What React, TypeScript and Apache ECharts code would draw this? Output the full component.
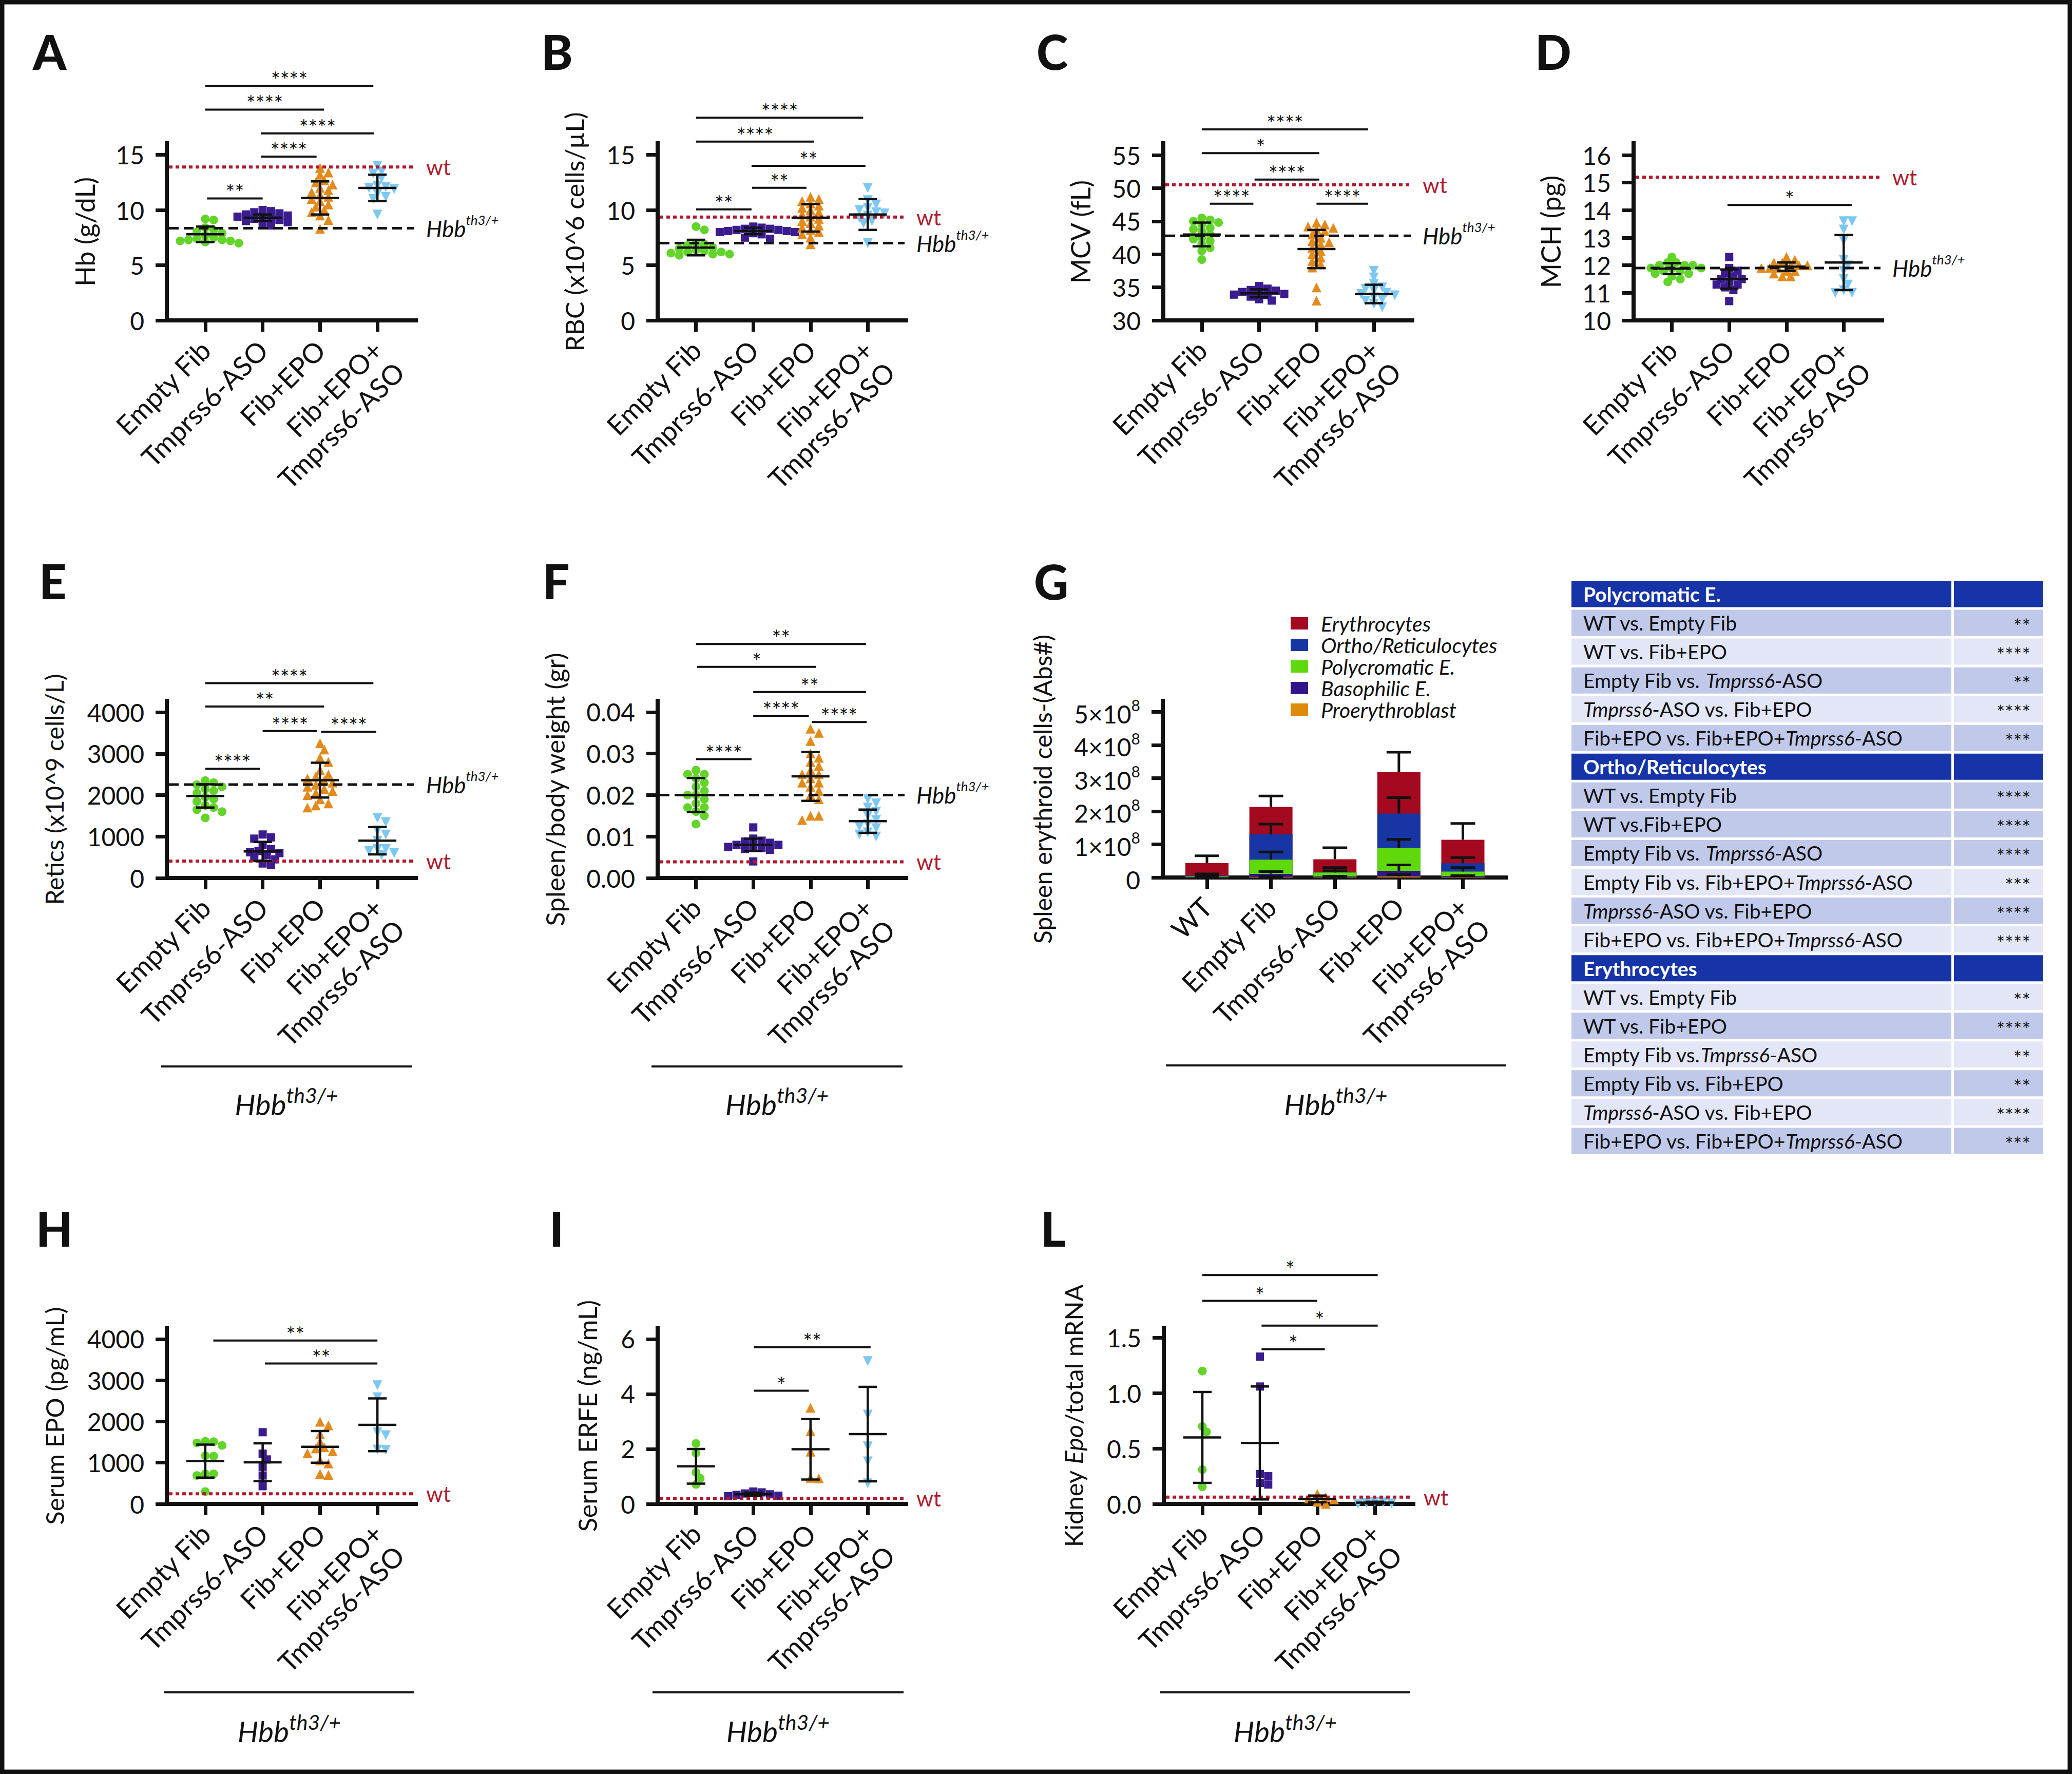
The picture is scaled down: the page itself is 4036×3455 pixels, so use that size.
import React, { useEffect, useRef } from 'react';
import * as echarts from 'echarts';

const FONT = 'Lato, "Noto Sans", "DejaVu Sans", sans-serif';
const INK = '#111111';
const RED = '#b01a2e';

// ---------- categories ----------
const CATS = ['Empty Fib', 'Tmprss6-ASO', 'Fib+EPO', 'Fib+EPO+\nTmprss6-ASO'];
const G_CATS = ['WT', 'Empty Fib', 'Tmprss6-ASO', 'Fib+EPO', 'Fib+EPO+\nTmprss6-ASO'];

// ---------- A: Hb (g/dL) ----------
const A_EMPTY = [9.2, 9.1, 8.4, 8.2, 8.0, 7.9, 7.7, 7.5, 7.4, 7.3, 7.2, 7.2, 7.1, 7.0, 7.3];
const A_TMP = [10.0, 9.9, 9.8, 9.7, 9.6, 9.5, 9.4, 9.3, 9.2, 9.1, 9.0, 8.9, 8.7, 8.6, 9.4];
const A_EPO = [13.8, 13.4, 13.2, 12.7, 12.5, 12.3, 12.0, 11.6, 11.4, 11.2, 11.0, 10.8, 10.5, 10.3, 10.0, 9.8, 9.5, 9.1, 8.3, 11.8];
const A_EPOT = [14.0, 13.5, 13.3, 12.9, 12.2, 12.1, 12.0, 11.9, 11.5, 11.2, 11.0, 9.6];
const A_MEAN = [7.8, 9.3, 11.1, 12.0];
const A_SD = [0.7, 0.3, 1.5, 1.2];
const A_WT = 13.9;
const A_HBB = 8.35;
const A_TICKS = [0, 5, 10, 15];
const A_BRACKETS: any[] = [[0.03, 1.0, 11.05, '**'], [0.97, 1.94, 14.84, '****'], [0.97, 2.94, 16.95, '****'], [0, 2.07, 19.1, '****'], [0, 2.93, 21.25, '****']];

// ---------- B: RBC ----------
const B_EMPTY = [8.5, 8.2, 7.0, 6.9, 6.8, 6.6, 6.4, 6.3, 6.2, 6.1, 6.0, 6.0, 5.9, 6.5, 6.2];
const B_TMP = [8.5, 8.4, 8.3, 8.3, 8.2, 8.2, 8.1, 8.1, 8.0, 8.0, 7.9, 7.8, 7.5, 7.4];
const B_EPO = [11.2, 11.0, 10.8, 10.6, 10.4, 10.2, 10.0, 9.8, 9.6, 9.4, 9.2, 9.0, 8.8, 8.6, 8.4, 8.2, 8.0, 7.8, 7.5, 6.9];
const B_EPOT = [12.0, 10.9, 10.5, 10.2, 10.0, 9.8, 9.7, 9.5, 9.3, 9.0, 8.8, 7.0];
const B_MEAN = [6.6, 8.1, 9.3, 9.6];
const B_SD = [0.7, 0.3, 1.25, 1.4];
const B_WT = 9.36;
const B_HBB = 7.0;
const B_TICKS = [0, 5, 10, 15];
const B_BRACKETS: any[] = [[0, 0.97, 10.06, '**'], [0.98, 1.93, 12.02, '**'], [0.97, 2.96, 14.0, '**'], [0, 2.06, 16.2, '****'], [0, 2.92, 18.37, '****']];

// ---------- C: MCV ----------
const C_EMPTY = [45.5, 45.2, 45.0, 44.8, 44.5, 44.0, 43.8, 43.5, 43.0, 42.5, 42.3, 42.0, 41.5, 41.0, 40.5, 39.2];
const C_TMP = [35.2, 34.8, 34.6, 34.5, 34.3, 34.2, 34.0, 33.9, 33.8, 33.6, 33.2, 33.0];
const C_EPO = [44.8, 44.5, 44.2, 44.0, 43.8, 43.5, 43.0, 42.5, 42.0, 41.8, 41.5, 41.0, 40.5, 40.0, 39.5, 39.0, 38.5, 38.0, 35.0, 33.0];
const C_EPOT = [37.5, 36.5, 35.5, 35.0, 34.8, 34.5, 34.2, 34.0, 33.8, 33.5, 33.2, 33.0, 32.5, 32.0];
const C_MEAN = [43.0, 34.1, 40.8, 34.0];
const C_SD = [1.8, 0.6, 2.9, 1.4];
const C_WT = 50.5;
const C_HBB = 42.8;
const C_TICKS = [30, 35, 40, 45, 50, 55];
const C_BRACKETS: any[] = [[0.14, 0.9, 47.65, '****'], [0.92, 2.05, 51.3, '****'], [2.0, 2.9, 47.65, '****'], [0, 2.05, 55.3, '*'], [0, 2.9, 58.9, '****']];

// ---------- D: MCH ----------
const D_EMPTY = [12.3, 12.1, 12.1, 12.0, 12.0, 12.0, 11.9, 11.9, 11.9, 11.8, 11.8, 11.7, 11.7, 11.6, 11.5, 11.4];
const D_TMP = [12.3, 11.9, 11.8, 11.7, 11.6, 11.5, 11.5, 11.4, 11.3, 11.3, 11.2, 11.1, 10.7];
const D_EPO = [12.3, 12.2, 12.1, 12.1, 12.0, 12.0, 12.0, 11.9, 11.9, 11.9, 11.8, 11.8, 11.7, 11.6, 11.6];
const D_EPOT = [13.6, 13.6, 13.3, 12.9, 12.2, 12.0, 11.8, 11.5, 11.3, 11.1, 11.0, 11.0];
const D_MEAN = [11.88, 11.5, 11.95, 12.1];
const D_SD = [0.2, 0.35, 0.15, 1.0];
const D_WT = 15.2;
const D_HBB = 11.9;
const D_TICKS = [10, 11, 12, 13, 14, 15, 16];
const D_BRACKETS: any[] = [[0.97, 3.14, 14.19, '*']];

// ---------- E: Retics ----------
const E_EMPTY = [2350, 2300, 2250, 2200, 2150, 2100, 2050, 1950, 1900, 1850, 1750, 1700, 1650, 1600, 1450];
const E_TMP = [1050, 980, 950, 800, 700, 650, 620, 600, 550, 500, 450, 350, 320];
const E_EPO = [3250, 3100, 2900, 2800, 2600, 2500, 2450, 2400, 2350, 2300, 2250, 2200, 2150, 2100, 2050, 2000, 1900, 1800, 1750, 1700];
const E_EPOT = [1450, 1350, 1150, 1050, 900, 700, 650, 600, 550, 700];
const E_MEAN = [1980, 640, 2360, 900];
const E_SD = [280, 230, 420, 330];
const E_WT = 409;
const E_HBB = 2254;
const E_TICKS = [0, 1000, 2000, 3000, 4000];
const E_BRACKETS: any[] = [[0, 0.95, 2636, '****'], [1.0, 1.95, 3546, '****'], [2.02, 2.98, 3527, '****'], [0, 2.07, 4136, '**'], [0, 2.93, 4699, '****']];

// ---------- F: Spleen/body weight ----------
const F_EMPTY = [0.026, 0.025, 0.025, 0.024, 0.023, 0.022, 0.021, 0.02, 0.02, 0.019, 0.018, 0.017, 0.017, 0.016, 0.015, 0.013];
const F_TMP = [0.0122, 0.0095, 0.009, 0.0088, 0.0085, 0.008, 0.008, 0.0078, 0.0075, 0.0072, 0.007, 0.0068, 0.004];
const F_EPO = [0.036, 0.035, 0.033, 0.03, 0.029, 0.028, 0.027, 0.026, 0.025, 0.025, 0.024, 0.023, 0.023, 0.022, 0.021, 0.02, 0.019, 0.015, 0.015, 0.014];
const F_EPOT = [0.019, 0.018, 0.017, 0.016, 0.015, 0.014, 0.013, 0.0125, 0.012, 0.011, 0.0105, 0.01];
const F_MEAN = [0.02, 0.008, 0.0245, 0.0137];
const F_SD = [0.0041, 0.0015, 0.0059, 0.0028];
const F_WT = 0.0039;
const F_HBB = 0.02;
const F_TICKS = [0, 0.01, 0.02, 0.03, 0.04];
const F_BRACKETS: any[] = [[0, 0.97, 0.02864, '****'], [1.0, 1.97, 0.0391, '****'], [2.02, 2.98, 0.0376, '****'], [1.0, 2.97, 0.04482, '**'], [0.02, 2.1, 0.0509, '*'], [0, 2.97, 0.0564, '**']];

// ---------- G: spleen erythroid cells (x1e8) ----------
const G_PRO = [0.002, 0.02, 0.01, 0.03, 0.01];
const G_BASO = [0.008, 0.09, 0.02, 0.17, 0.03];
const G_POLY = [0.02, 0.43, 0.12, 0.69, 0.14];
const G_ORTHO = [0.03, 0.76, 0.02, 1.04, 0.25];
const G_ERY = [0.375, 0.83, 0.38, 1.25, 0.71];
const G_PRO_SD = [0, 0.01, 0, 0.06, 0];
const G_BASO_SD = [0.005, 0.07, 0.01, 0.18, 0.02];
const G_POLY_SD = [0.01, 0.23, 0.05, 0.26, 0.12];
const G_ORTHO_SD = [0.05, 0.31, 0.13, 0.48, 0.17];
const G_ERY_SD = [0.22, 0.33, 0.35, 0.6, 0.49];
const G_TICKS = [0, 1e8, 2e8, 3e8, 4e8, 5e8];
const G_NAMES = ['Proerythroblast', 'Basophilic E.', 'Polycromatic E.', 'Ortho/Reticulocytes', 'Erythrocytes'];
const G_COLORS = ['#e08a0c', '#30148c', '#5fd80c', '#1736a4', '#a30a1f'];

// ---------- H: Serum EPO ----------
const H_EMPTY = [1510, 1520, 1480, 1420, 1160, 1170, 730, 730, 690, 300];
const H_TMP = [1740, 1220, 1080, 900, 690, 430];
const H_EPO = [1995, 1905, 1695, 1510, 1375, 1345, 1280, 1235, 1055, 980, 730, 705];
const H_EPOT = [2880, 2590, 1740, 1670, 1310, 1320];
const H_MEAN = [1040, 1010, 1385, 1920];
const H_SD = [400, 460, 385, 640];
const H_WT = 247;
const H_TICKS = [0, 1000, 2000, 3000, 4000];
const H_BRACKETS: any[] = [[0.14, 3.0, 3966, '**'], [1.04, 3.0, 3407, '**']];

// ---------- I: Serum ERFE ----------
const I_EMPTY = [2.2, 1.85, 1.15, 0.93, 0.71];
const I_TMP = [0.45, 0.42, 0.38, 0.35, 0.33, 0.3, 0.28];
const I_EPO = [3.5, 2.65, 1.9, 0.95, 0.93];
const I_EPOT = [5.2, 3.25, 2.1, 1.55, 0.75];
const I_MEAN = [1.37, 0.35, 1.99, 2.54];
const I_SD = [0.63, 0.06, 1.1, 1.72];
const I_WT = 0.207;
const I_TICKS = [0, 2, 4, 6];
const I_BRACKETS: any[] = [[1.01, 1.97, 4.12, '*'], [1.01, 3.05, 5.7, '**']];

// ---------- L: Kidney Epo ----------
const L_EMPTY = [1.2, 0.7, 0.65, 0.31, 0.155];
const L_TMP = [1.33, 1.06, 0.27, 0.25, 0.19, 0.175];
const L_EPO = [0.09, 0.06, 0.05, 0.04, 0.02, 0.0];
const L_EPOT = [0.02, 0.015, 0.01, 0.005, 0.0];
const L_MEAN = [0.6, 0.55, 0.045, 0.012];
const L_SD = [0.41, 0.51, 0.03, 0.008];
const L_WT = 0.062;
const L_TICKS = [0, 0.5, 1.0, 1.5];
const L_BRACKETS: any[] = [[1.03, 2.13, 1.397, '*'], [1.03, 3.05, 1.61, '*'], [0, 2.0, 1.833, '*'], [0, 3.05, 2.066, '*']];

// ---------- table ----------
const POLY_ROWS = [
  ['WT vs. Empty Fib', '**'],
  ['WT vs. Fib+EPO', '****'],
  ['Empty Fib vs. {i|Tmprss6}-ASO', '**'],
  ['{i|Tmprss6}-ASO vs. Fib+EPO', '****'],
  ['Fib+EPO vs. Fib+EPO+{i|Tmprss6}-ASO', '***'],
];
const ORTHO_ROWS = [
  ['WT vs. Empty Fib', '****'],
  ['WT vs.Fib+EPO', '****'],
  ['Empty Fib vs. {i|Tmprss6}-ASO', '****'],
  ['Empty Fib vs. Fib+EPO+{i|Tmprss6}-ASO', '***'],
  ['{i|Tmprss6}-ASO vs. Fib+EPO', '****'],
  ['Fib+EPO vs. Fib+EPO+{i|Tmprss6}-ASO', '****'],
];
const ERY_ROWS = [
  ['WT vs. Empty Fib', '**'],
  ['WT vs. Fib+EPO', '****'],
  ['Empty Fib vs.{i|Tmprss6}-ASO', '**'],
  ['Empty Fib vs. Fib+EPO', '**'],
  ['{i|Tmprss6}-ASO vs. Fib+EPO', '****'],
  ['Fib+EPO vs. Fib+EPO+{i|Tmprss6}-ASO', '***'],
];

// ---------- styling / layout ----------
const GROUP_COLORS = ['#62d42a', '#3b1c8f', '#e38a1c', '#7cc8f2'];
const GROUP_SYMBOLS = ['circle', 'rect', 'triangle', 'triangle'];
const GROUP_ROT = [0, 0, 0, 180];
const GROUP_SIZE = [17, 16, 19, 19];

const LAYOUT: Record<string, any> = {
  A: { left: 325, right: 810, top: 279, bottom: 624, nameGap: 134, nameSize: 52, letter: [64, 100] },
  B: { left: 1281, right: 1765, top: 279, bottom: 624, nameGap: 137, nameSize: 50, letter: [1054, 100] },
  C: { left: 2266, right: 2751, top: 279, bottom: 624, nameGap: 136, nameSize: 52, letter: [2019, 100] },
  D: { left: 3182, right: 3666, top: 279, bottom: 624, nameGap: 136, nameSize: 52, letter: [2990, 100] },
  E: { left: 325, right: 810, top: 1365, bottom: 1710, nameGap: 196, nameSize: 48, letter: [76, 1131], group: [314, 802, 2077, 2145] },
  F: { left: 1281, right: 1765, top: 1365, bottom: 1710, nameGap: 175, nameSize: 51, letter: [1057, 1131], group: [1269, 1758, 2077, 2145] },
  G: { left: 2265, right: 2933, top: 1365, bottom: 1709, nameGap: 211, nameSize: 48, letter: [2014, 1132], group: [2271, 2933, 2075, 2145] },
  H: { left: 325, right: 810, top: 2586, bottom: 2929, nameGap: 195, nameSize: 49, letter: [70, 2392], group: [320, 807, 3296, 3366] },
  I: { left: 1281, right: 1765, top: 2586, bottom: 2929, nameGap: 112, nameSize: 50, letter: [1070, 2392], group: [1271, 1760, 3296, 3366] },
  L: { left: 2267, right: 2753, top: 2586, bottom: 2929, nameGap: 152, nameSize: 49, letter: [2027, 2392], group: [2260, 2747, 3296, 3366] },
};

const TABLE = { x1: 3061, x2: 3801, x3: 3806, x4: 3980, y0: 1157, pitch: 56.05, h: 51, textX: 3084, starX: 3955 };
const SHADE: Record<string, number[]> = { poly: [1, 0, 1, 0, 1], ortho: [1, 1, 1, 0, 1, 0], ery: [0, 1, 0, 1, 0, 1] };

const PANELS: any[] = [
  { key: 'A', groups: [A_EMPTY, A_TMP, A_EPO, A_EPOT], mean: A_MEAN, sd: A_SD, br: A_BRACKETS, refs: [['wt', A_WT], ['hbb', A_HBB]], ticks: A_TICKS, ymin: 0, ymax: 16.05, name: 'Hb (g/dL)', dec: 0 },
  { key: 'B', groups: [B_EMPTY, B_TMP, B_EPO, B_EPOT], mean: B_MEAN, sd: B_SD, br: B_BRACKETS, refs: [['wt', B_WT], ['hbb', B_HBB]], ticks: B_TICKS, ymin: 0, ymax: 16.05, name: 'RBC (x10^6 cells/µL)', dec: 0 },
  { key: 'C', groups: [C_EMPTY, C_TMP, C_EPO, C_EPOT], mean: C_MEAN, sd: C_SD, br: C_BRACKETS, refs: [['wt', C_WT], ['hbb', C_HBB]], ticks: C_TICKS, ymin: 30, ymax: 56.8, name: 'MCV (fL)', dec: 0 },
  { key: 'D', groups: [D_EMPTY, D_TMP, D_EPO, D_EPOT], mean: D_MEAN, sd: D_SD, br: D_BRACKETS, refs: [['wt', D_WT], ['hbb', D_HBB]], ticks: D_TICKS, ymin: 10, ymax: 16.43, name: 'MCH (pg)', dec: 0 },
  { key: 'E', groups: [E_EMPTY, E_TMP, E_EPO, E_EPOT], mean: E_MEAN, sd: E_SD, br: E_BRACKETS, refs: [['wt', E_WT], ['hbb', E_HBB]], ticks: E_TICKS, ymin: 0, ymax: 4273, name: 'Retics (x10^9 cells/L)', dec: 0 },
  { key: 'F', groups: [F_EMPTY, F_TMP, F_EPO, F_EPOT], mean: F_MEAN, sd: F_SD, br: F_BRACKETS, refs: [['wt', F_WT], ['hbb', F_HBB]], ticks: F_TICKS, ymin: 0, ymax: 0.0427, name: 'Spleen/body weight (gr)', dec: 2 },
  { key: 'H', groups: [H_EMPTY, H_TMP, H_EPO, H_EPOT], mean: H_MEAN, sd: H_SD, br: H_BRACKETS, refs: [['wt', H_WT]], ticks: H_TICKS, ymin: 0, ymax: 4274, name: 'Serum EPO (pg/mL)', dec: 0 },
  { key: 'I', groups: [I_EMPTY, I_TMP, I_EPO, I_EPOT], mean: I_MEAN, sd: I_SD, br: I_BRACKETS, refs: [['wt', I_WT]], ticks: I_TICKS, ymin: 0, ymax: 6.41, name: 'Serum ERFE (ng/mL)', dec: 0 },
  { key: 'L', groups: [L_EMPTY, L_TMP, L_EPO, L_EPOT], mean: L_MEAN, sd: L_SD, br: L_BRACKETS, refs: [['wt', L_WT]], ticks: L_TICKS, ymin: 0, ymax: 1.59, name: '{n|Kidney }{i|Epo}{n|/total mRNA}', dec: 1 },
];

const XMIN = -0.67;
const XMAX = 3.67;

function swarm(values: number[], cat: number, pyu: number, pxu: number, size: number) {
  const placed: number[][] = [];
  const idx = values.map((_, i) => i).sort((a, b) => values[b] - values[a]);
  const out: number[][] = new Array(values.length);
  const step = size * 0.48;
  const minD2 = (size * 0.73) ** 2;
  idx.forEach((i) => {
    const ypx = values[i] * pyu;
    let off = 0;
    for (let k = 0; k < 80; k++) {
      const cand = k === 0 ? 0 : (k % 2 ? 1 : -1) * Math.ceil(k / 2) * step;
      if (placed.every(([px, py]) => (px - cand) ** 2 + (py - ypx) ** 2 >= minD2)) {
        off = cand;
        break;
      }
    }
    placed.push([off, ypx]);
    out[i] = [cat + off / pxu, values[i]];
  });
  return out;
}

function axisLineStyle() {
  return { show: true, onZero: false, lineStyle: { color: INK, width: 8, cap: 'square' } };
}

// two-line labels get an empty leading line so that their first line sits where single-line labels sit
function labelText(s: string) {
  return s.indexOf('\n') >= 0 ? '\n' + s : s;
}

function xAxisFor(gi: number, cats: string[], min: number, max: number) {
  const vals = cats.map((_, i) => i);
  // invisible guard labels at both ends keep ECharts' min/max overlap check off the real labels
  const labelVals = [min + 0.02, ...vals, max - 0.02];
  return {
    gridIndex: gi,
    type: 'value',
    min,
    max,
    axisLine: axisLineStyle(),
    axisTick: { show: true, customValues: vals, length: 22, lineStyle: { color: INK, width: 7 } },
    axisLabel: {
      customValues: labelVals,
      formatter: (v: number) => {
        const r = Math.round(v);
        return Math.abs(v - r) < 1e-6 && cats[r] !== undefined ? labelText(cats[r]) : '';
      },
      rotate: 45,
      fontSize: 53,
      fontFamily: FONT,
      color: INK,
      margin: 48,
      lineHeight: 60,
      hideOverlap: false,
    },
    splitLine: { show: false },
  };
}

function yAxisFor(gi: number, p: any, L: any, extra: any = {}) {
  return {
    gridIndex: gi,
    type: 'value',
    min: p.ymin,
    max: p.ymax,
    name: p.name,
    nameLocation: 'middle',
    nameRotate: 90,
    nameGap: L.nameGap,
    nameTextStyle: {
      fontSize: L.nameSize,
      fontFamily: FONT,
      color: INK,
      rich: {
        n: { fontSize: L.nameSize, fontFamily: FONT, color: INK },
        i: { fontSize: L.nameSize, fontFamily: FONT, color: INK, fontStyle: 'italic' },
      },
    },
    axisLine: axisLineStyle(),
    axisTick: { show: true, customValues: p.ticks, length: 22, lineStyle: { color: INK, width: 7 } },
    axisLabel: {
      customValues: p.ticks,
      formatter: (v: number) => v.toFixed(p.dec),
      fontSize: 48,
      fontFamily: FONT,
      color: INK,
      margin: 44,
    },
    splitLine: { show: false },
    ...extra,
  };
}

function buildOption() {
  const grid: any[] = [];
  const xAxis: any[] = [];
  const yAxis: any[] = [];
  const series: any[] = [];
  const graphic: any[] = [];

  const addDotPanel = (p: any) => {
    const L = LAYOUT[p.key];
    const gi = grid.length;
    grid.push({ left: L.left, top: L.top, width: L.right - L.left, height: L.bottom - L.top });
    xAxis.push(xAxisFor(gi, CATS, XMIN, XMAX));
    yAxis.push(yAxisFor(gi, p, L));
    const pxu = (L.right - L.left) / (XMAX - XMIN);
    const pyu = (L.bottom - L.top) / (p.ymax - p.ymin);

    // reference lines (wt / Hbb)
    const refKinds = p.refs.map((r: any) => r[0]);
    series.push({
      type: 'custom',
      xAxisIndex: gi,
      yAxisIndex: gi,
      clip: false,
      silent: true,
      z: 3,
      encode: { x: 0, y: 1 },
      data: p.refs.map((r: any) => [0, r[1]]),
      renderItem: (params: any, api: any) => {
        const v = api.value(1);
        const kind = refKinds[params.dataIndex];
        const p1 = api.coord([XMIN, v]);
        const p2 = api.coord([XMAX, v]);
        const red = kind === 'wt';
        const line = {
          type: 'line',
          shape: { x1: p1[0] + 4, y1: p1[1], x2: p2[0] - 3, y2: p2[1] },
          style: { stroke: red ? RED : INK, lineWidth: red ? 6 : 5, lineDash: red ? [7, 6] : [19, 10] },
        };
        const text = red
          ? {
              type: 'text',
              x: p2[0] + 20,
              y: p1[1],
              style: { text: 'wt', fill: RED, fontSize: 42, fontFamily: FONT, align: 'left', verticalAlign: 'middle' },
            }
          : {
              type: 'text',
              x: p2[0] + 20,
              y: p1[1] - 4,
              style: {
                text: '{m|Hbb}{s|th3/+}',
                align: 'left',
                verticalAlign: 'middle',
                rich: {
                  m: { fontSize: 44, fontStyle: 'italic', fontFamily: FONT, fill: INK, lineHeight: 52, verticalAlign: 'bottom' },
                  s: { fontSize: 26, fontStyle: 'italic', fontFamily: FONT, fill: INK, lineHeight: 26, verticalAlign: 'top' },
                },
              },
            };
        return { type: 'group', children: [line, text] };
      },
    });

    // dots
    p.groups.forEach((vals: number[], g: number) => {
      series.push({
        type: 'scatter',
        xAxisIndex: gi,
        yAxisIndex: gi,
        z: 2,
        symbol: GROUP_SYMBOLS[g],
        symbolRotate: GROUP_ROT[g],
        symbolSize: GROUP_SIZE[g],
        itemStyle: { color: GROUP_COLORS[g], opacity: 1 },
        data: swarm(vals.map((v) => v - p.ymin), g, pyu, pxu, 17).map((d) => [d[0], d[1] + p.ymin]),
      });
    });

    // mean +/- SD
    series.push({
      type: 'custom',
      xAxisIndex: gi,
      yAxisIndex: gi,
      clip: false,
      silent: true,
      z: 5,
      encode: { x: 0, y: 1 },
      data: p.mean.map((m: number, i: number) => [i, m, p.sd[i]]),
      renderItem: (params: any, api: any) => {
        const c = api.value(0);
        const m = api.value(1);
        const s = api.value(2);
        const pm = api.coord([c, m]);
        const pt = api.coord([c, m + s]);
        const pb = api.coord([c, Math.max(m - s, p.ymin)]);
        const st = { stroke: INK, lineWidth: 4.5 };
        return {
          type: 'group',
          children: [
            { type: 'line', shape: { x1: pm[0] - 37, y1: pm[1], x2: pm[0] + 37, y2: pm[1] }, style: st },
            { type: 'line', shape: { x1: pt[0], y1: pt[1], x2: pb[0], y2: pb[1] }, style: st },
            { type: 'line', shape: { x1: pt[0] - 18, y1: pt[1], x2: pt[0] + 18, y2: pt[1] }, style: st },
            { type: 'line', shape: { x1: pb[0] - 18, y1: pb[1], x2: pb[0] + 18, y2: pb[1] }, style: st },
          ],
        };
      },
    });

    // significance brackets
    const br = p.br;
    series.push({
      type: 'custom',
      xAxisIndex: gi,
      yAxisIndex: gi,
      clip: false,
      silent: true,
      z: 5,
      encode: { x: [0, 1], y: 2 },
      data: br.map((b: any) => [b[0], b[1], b[2]]),
      renderItem: (params: any, api: any) => {
        const a = api.coord([api.value(0), api.value(2)]);
        const b = api.coord([api.value(1), api.value(2)]);
        return {
          type: 'group',
          children: [
            { type: 'line', shape: { x1: a[0], y1: a[1], x2: b[0], y2: b[1] }, style: { stroke: INK, lineWidth: 4 } },
            {
              type: 'text',
              x: (a[0] + b[0]) / 2,
              y: a[1] - 12,
              style: { text: br[params.dataIndex][3], fill: INK, fontSize: 42, fontFamily: FONT, align: 'center', verticalAlign: 'middle' },
            },
          ],
        };
      },
    });
  };

  const addBarPanel = () => {
    const L = LAYOUT.G;
    const gi = grid.length;
    grid.push({ left: L.left, top: L.top, width: L.right - L.left, height: L.bottom - L.top });
    const gx0 = -0.69;
    const gx1 = 4.67;
    xAxis.push(xAxisFor(gi, G_CATS, gx0, gx1));
    const p = { ymin: 0, ymax: 5.33e8, ticks: G_TICKS, name: 'Spleen erythroid cells-(Abs#)', dec: 0 };
    yAxis.push(
      yAxisFor(gi, p, L, {
        axisLabel: {
          customValues: G_TICKS,
          formatter: (v: number) => (v === 0 ? '{b|0}' : `{b|${Math.round(v / 1e8)}×10}{s|8}`),
          margin: 44,
          rich: {
            b: { fontSize: 48, fontFamily: FONT, color: INK, lineHeight: 56, verticalAlign: 'bottom' },
            s: { fontSize: 30, fontFamily: FONT, color: INK, lineHeight: 30, verticalAlign: 'top' },
          },
        },
      })
    );
    const stacks = [G_PRO, G_BASO, G_POLY, G_ORTHO, G_ERY];
    const sds = [G_PRO_SD, G_BASO_SD, G_POLY_SD, G_ORTHO_SD, G_ERY_SD];
    // cumulative tops of each stacked segment (bottom -> top)
    const cum: number[][] = stacks.map(() => new Array(G_CATS.length).fill(0));
    G_CATS.forEach((_, i) => {
      let c = 0;
      stacks.forEach((arr, si) => {
        c += arr[i];
        cum[si][i] = c;
      });
    });
    // draw tallest (top segment) first so lower segments overlay it
    for (let si = stacks.length - 1; si >= 0; si--) {
      series.push({
        type: 'bar',
        name: G_NAMES[si],
        xAxisIndex: gi,
        yAxisIndex: gi,
        barWidth: 84,
        barGap: '-100%',
        z: 2,
        itemStyle: { color: G_COLORS[si] },
        data: cum[si].map((v, i) => [i, v * 1e8]),
      });
    }
    const errData: number[][] = [];
    G_CATS.forEach((_, i) => {
      stacks.forEach((_arr, si) => {
        if (sds[si][i] > 0) errData.push([i, cum[si][i] * 1e8, sds[si][i] * 1e8]);
      });
    });
    series.push({
      type: 'custom',
      xAxisIndex: gi,
      yAxisIndex: gi,
      clip: false,
      silent: true,
      z: 6,
      encode: { x: 0, y: 1 },
      data: errData,
      renderItem: (params: any, api: any) => {
        const c = api.value(0);
        const t = api.value(1);
        const s = api.value(2);
        const a = api.coord([c, t]);
        const b = api.coord([c, t + s]);
        const st = { stroke: INK, lineWidth: 5 };
        return {
          type: 'group',
          children: [
            { type: 'line', shape: { x1: a[0], y1: a[1], x2: b[0], y2: b[1] }, style: st },
            { type: 'line', shape: { x1: b[0] - 24, y1: b[1], x2: b[0] + 24, y2: b[1] }, style: st },
          ],
        };
      },
    });
  };

  PANELS.slice(0, 6).forEach(addDotPanel);
  addBarPanel();
  PANELS.slice(6).forEach(addDotPanel);

  // frame
  graphic.push({
    type: 'rect',
    shape: { x: 4, y: 4, width: 4028, height: 3447 },
    style: { fill: 'none', stroke: INK, lineWidth: 9 },
    silent: true,
  });

  // panel letters + group labels
  Object.keys(LAYOUT).forEach((k) => {
    const L = LAYOUT[k];
    graphic.push({
      type: 'text',
      x: L.letter[0],
      y: L.letter[1],
      style: { text: k, fill: INK, fontSize: 93, fontWeight: 900, fontFamily: FONT, align: 'left', verticalAlign: 'middle' },
      silent: true,
    });
    if (L.group) {
      const [gx1, gx2, gy, ty] = L.group;
      graphic.push({ type: 'line', shape: { x1: gx1, y1: gy, x2: gx2, y2: gy }, style: { stroke: INK, lineWidth: 4 }, silent: true });
      graphic.push({
        type: 'text',
        x: (gx1 + gx2) / 2,
        y: ty,
        style: {
          text: '{m|Hbb}{s|th3/+}',
          align: 'center',
          verticalAlign: 'middle',
          rich: {
            m: { fontSize: 57, fontStyle: 'italic', fontFamily: FONT, fill: INK, lineHeight: 66, verticalAlign: 'bottom' },
            s: { fontSize: 41, fontStyle: 'italic', fontFamily: FONT, fill: INK, lineHeight: 41, verticalAlign: 'top' },
          },
        },
        silent: true,
      });
    }
  });

  // table
  const sections: [string, any[], number[]][] = [
    ['Polycromatic E.', POLY_ROWS, SHADE.poly],
    ['Ortho/Reticulocytes', ORTHO_ROWS, SHADE.ortho],
    ['Erythrocytes', ERY_ROWS, SHADE.ery],
  ];
  let row = 0;
  const rowY = (r: number) => TABLE.y0 + r * TABLE.pitch;
  const cellRects = (cy: number, fill: string) => [
    { type: 'rect', shape: { x: TABLE.x1, y: cy - TABLE.h / 2, width: TABLE.x2 - TABLE.x1, height: TABLE.h }, style: { fill }, silent: true },
    { type: 'rect', shape: { x: TABLE.x3, y: cy - TABLE.h / 2, width: TABLE.x4 - TABLE.x3, height: TABLE.h }, style: { fill }, silent: true },
  ];
  sections.forEach(([title, rows, shade]) => {
    const cy = rowY(row);
    graphic.push(...cellRects(cy, '#1634a8'));
    graphic.push({
      type: 'text',
      x: TABLE.textX,
      y: cy,
      style: { text: title, fill: '#ffffff', fontSize: 39, fontWeight: 'bold', fontFamily: FONT, align: 'left', verticalAlign: 'middle' },
      silent: true,
    });
    row++;
    rows.forEach((r: any, ri: number) => {
      const y = rowY(row);
      graphic.push(...cellRects(y, shade[ri] ? '#c0c9ea' : '#e2e6f7'));
      graphic.push({
        type: 'text',
        x: TABLE.textX,
        y,
        style: {
          text: r[0],
          fill: INK,
          fontSize: 39,
          fontFamily: FONT,
          align: 'left',
          verticalAlign: 'middle',
          rich: { i: { fontSize: 39, fontFamily: FONT, fontStyle: 'italic', fill: INK } },
        },
        silent: true,
      });
      graphic.push({
        type: 'text',
        x: TABLE.starX,
        y: y + 6,
        style: { text: r[1], fill: INK, fontSize: 39, fontFamily: FONT, align: 'right', verticalAlign: 'middle' },
        silent: true,
      });
      row++;
    });
  });

  return {
    animation: false,
    backgroundColor: '#ffffff',
    textStyle: { fontFamily: FONT },
    grid,
    xAxis,
    yAxis,
    series,
    graphic,
    legend: {
      data: ['Erythrocytes', 'Ortho/Reticulocytes', 'Polycromatic E.', 'Basophilic E.', 'Proerythroblast'],
      orient: 'vertical',
      left: 2509,
      top: 1188,
      itemWidth: 34,
      itemHeight: 24,
      itemGap: 0,
      icon: 'rect',
      selectedMode: false,
      textStyle: { fontSize: 41, fontStyle: 'italic', fontFamily: FONT, color: INK, lineHeight: 42, padding: [0, 0, 0, 20] },
    },
  };
}

export default function App() {
  const ref = useRef<HTMLDivElement>(null);
  useEffect(() => {
    document.body.style.margin = '0';
    const chart = echarts.init(ref.current as HTMLDivElement, null, { renderer: 'svg', width: 4036, height: 3455 });
    chart.setOption(buildOption() as any);
    return () => {
      chart.dispose();
    };
  }, []);
  return <div ref={ref} style={{ width: 4036, height: 3455, background: '#fff' }} />;
}
